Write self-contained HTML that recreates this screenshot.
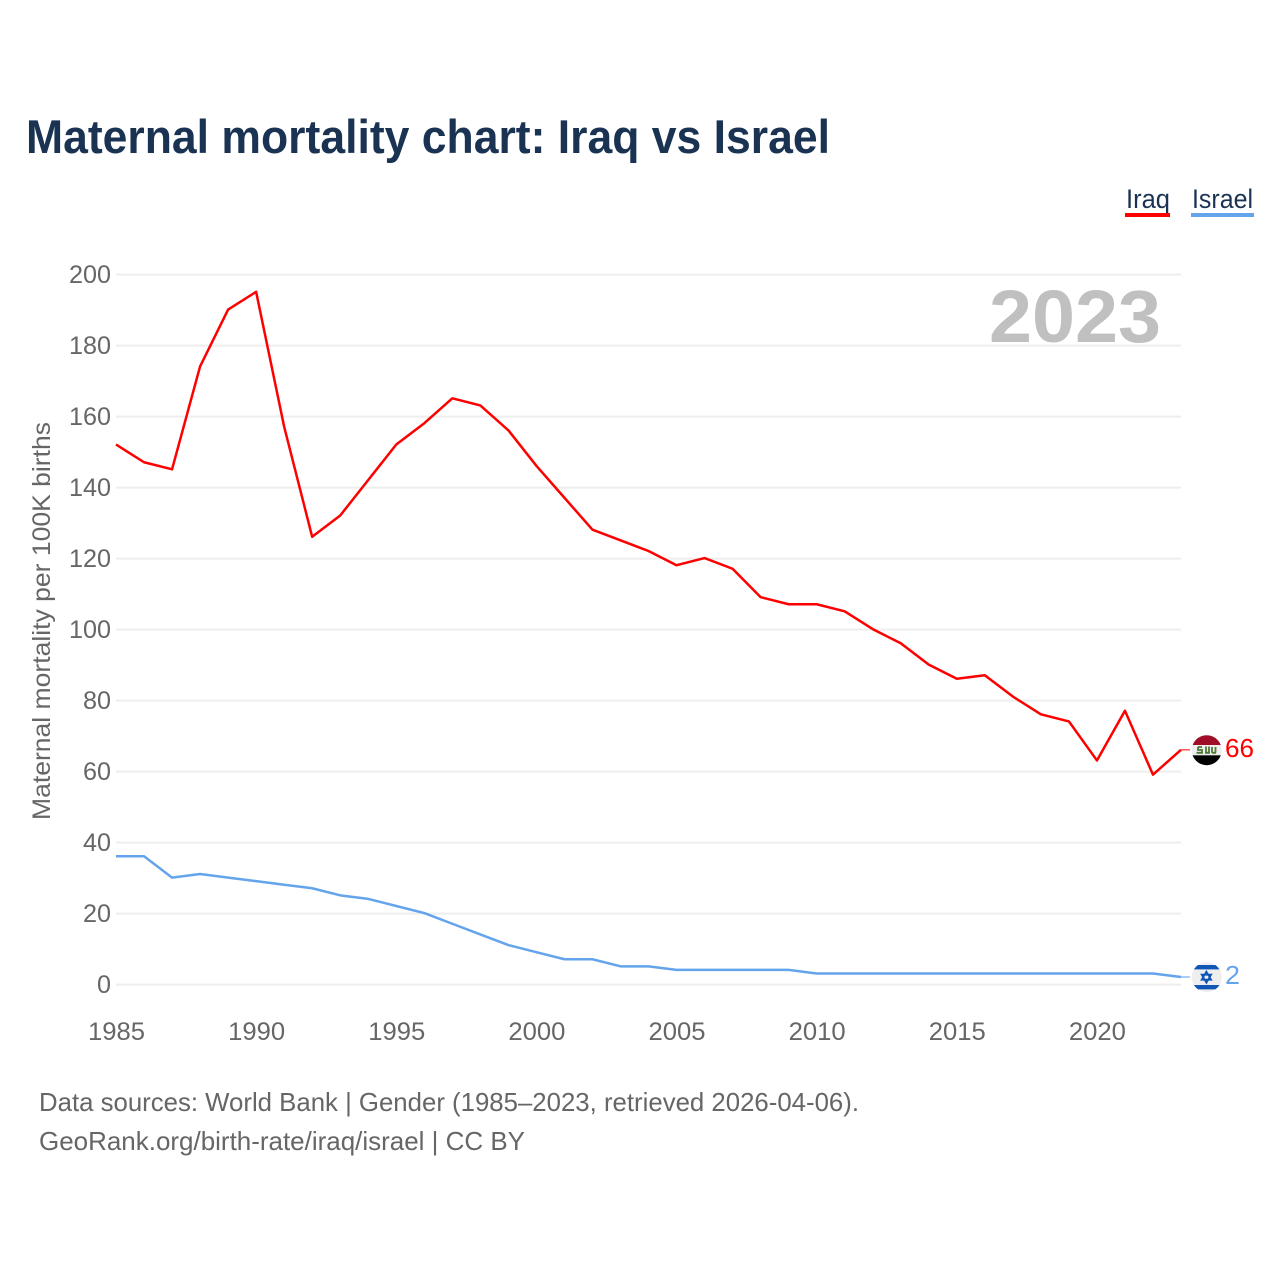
<!DOCTYPE html>
<html lang="en">
<head>
<meta charset="utf-8">
<title>Maternal mortality chart: Iraq vs Israel</title>
<style>
html,body{margin:0;padding:0;background:#fff;}
svg{display:block;font-family:"Liberation Sans",sans-serif;}
</style>
</head>
<body>
<svg id="chart" xmlns="http://www.w3.org/2000/svg" width="1280" height="1280" viewBox="0 0 1280 1280">
  <rect x="0" y="0" width="1280" height="1280" fill="#ffffff"/>
  <text x="26" y="153" font-size="47" font-weight="700" fill="#1a3353" textLength="804" lengthAdjust="spacingAndGlyphs">Maternal mortality chart: Iraq vs Israel</text>

  <g>
    <text x="1126" y="208" font-size="27" fill="#1a3353" textLength="44" lengthAdjust="spacingAndGlyphs">Iraq</text>
    <rect x="1125" y="213" width="45" height="4" fill="#ff0000"/>
  </g>
  <g>
    <text x="1192" y="208" font-size="27" fill="#1a3353" textLength="61" lengthAdjust="spacingAndGlyphs">Israel</text>
    <rect x="1191" y="213" width="63" height="4" fill="#63a4ec"/>
  </g>

  <g id="grid"></g>
  <g id="yticks"></g>
  <g id="xticks"></g>

  <text x="989" y="342" font-size="74" font-weight="700" fill="#c0c0c0" textLength="172" lengthAdjust="spacingAndGlyphs">2023</text>

  <text transform="translate(50,820) rotate(-90)" x="0" y="0" font-size="25" fill="#666666" textLength="398" lengthAdjust="spacingAndGlyphs">Maternal mortality per 100K births</text>

  <g id="series" transform="translate(0,-0.5)"></g>

  <defs>
    <clipPath id="clip-iraq"><circle cx="1206.7" cy="750.2" r="15"/></clipPath>
    <clipPath id="clip-israel"><circle cx="1206.7" cy="977.2" r="15"/></clipPath>
  </defs>

  <g clip-path="url(#clip-iraq)">
    <rect x="1191" y="735" width="32" height="10" fill="#a00d26"/>
    <rect x="1191" y="745" width="32" height="10.3" fill="#eeeeee"/>
    <rect x="1191" y="755.3" width="32" height="11" fill="#000000"/>
    <path d="M1196.5 752.8h6.5M1198 747h4M1198 747v3h4v2.8M1206 746.5v6.3M1209 746.5v6.3M1205 752.8h5M1212 752.8h4M1212 747v5.8M1215.5 747v5.8" stroke="#4d7a35" stroke-width="1.8" fill="none"/>
  </g>
  <g clip-path="url(#clip-israel)">
    <rect x="1191" y="962" width="32" height="31" fill="#eeeeee"/>
    <rect x="1191" y="965" width="32" height="4.4" fill="#0f56b5"/>
    <rect x="1191" y="985" width="32" height="4.4" fill="#0f56b5"/>
    <path d="M1206.4 971.7l4.7 8h-9.4zM1206.4 982.7l-4.7-8h9.4z" fill="none" stroke="#0f56b5" stroke-width="1.8"/>
  </g>

  <text id="end-iraq" x="1225" y="757" font-size="26" fill="#ff0000" textLength="29" lengthAdjust="spacingAndGlyphs"></text>
  <text id="end-israel" x="1225" y="984" font-size="26" fill="#63a4ec" textLength="15" lengthAdjust="spacingAndGlyphs"></text>

  <text x="39" y="1111" font-size="26" fill="#666666" textLength="820" lengthAdjust="spacingAndGlyphs">Data sources: World Bank | Gender (1985–2023, retrieved 2026-04-06).</text>
  <text x="39" y="1150" font-size="26" fill="#666666" textLength="486" lengthAdjust="spacingAndGlyphs">GeoRank.org/birth-rate/iraq/israel | CC BY</text>
</svg>
<script>
const years = [1985,1986,1987,1988,1989,1990,1991,1992,1993,1994,1995,1996,1997,1998,1999,2000,2001,2002,2003,2004,2005,2006,2007,2008,2009,2010,2011,2012,2013,2014,2015,2016,2017,2018,2019,2020,2021,2022,2023];
const iraqValues = [152,147,145,174,190,195,157,126,132,142,152,158,165,163,156,146,137,128,125,122,118,120,117,109,107,107,105,100,96,90,86,87,81,76,74,63,77,59,66];
const israelValues = [36,36,30,31,30,29,28,27,25,24,22,20,17,14,11,9,7,7,5,5,4,4,4,4,4,3,3,3,3,3,3,3,3,3,3,3,3,3,2];
const yTickLabels = [0,20,40,60,80,100,120,140,160,180,200];
const xTickLabels = [1985,1990,1995,2000,2005,2010,2015,2020];

const NS = 'http://www.w3.org/2000/svg';
const xScale = function (year) { return 116 + (year - 1985) * (1181 - 116) / 38; };
const yScale = function (value) { return 984.6 - value * 3.55; };

const grid = document.getElementById('grid');
const yticks = document.getElementById('yticks');
const xticks = document.getElementById('xticks');
const series = document.getElementById('series');

yTickLabels.forEach(function (tick) {
  const line = document.createElementNS(NS, 'line');
  
  
  line.setAttribute('x1', 116);
  line.setAttribute('x2', 1181);
  line.setAttribute('y1', yScale(tick));
  line.setAttribute('y2', yScale(tick));
  line.setAttribute('stroke', '#eeeeee');
  line.setAttribute('stroke-width', '2');
  grid.appendChild(line);

  const label = document.createElementNS(NS, 'text');
  
  
  const text = String(tick);
  const width = text.length * 14;
  label.setAttribute('x', 111 - width);
  label.setAttribute('y', yScale(tick) + 8.4);
  label.setAttribute('font-size', '25');
  label.setAttribute('fill', '#666666');
  label.setAttribute('textLength', width);
  label.setAttribute('lengthAdjust', 'spacingAndGlyphs');
  label.textContent = text;
  yticks.appendChild(label);
});

xTickLabels.forEach(function (tick) {
  const label = document.createElementNS(NS, 'text');
  
  
  label.setAttribute('x', xScale(tick) - 28);
  label.setAttribute('y', 1040);
  label.setAttribute('font-size', '25');
  label.setAttribute('fill', '#666666');
  label.setAttribute('textLength', 57);
  label.setAttribute('lengthAdjust', 'spacingAndGlyphs');
  label.textContent = String(tick);
  xticks.appendChild(label);
});

function buildPoints(values) {
  return values.map(function (value, i) {
    return xScale(years[i]).toFixed(2) + ',' + yScale(value).toFixed(2);
  }).join(' ');
}

const iraqLine = document.createElementNS(NS, 'polyline');


iraqLine.setAttribute('points', buildPoints(iraqValues));
iraqLine.setAttribute('fill', 'none');
iraqLine.setAttribute('stroke', '#ff0000');
iraqLine.setAttribute('stroke-width', '2.5');
iraqLine.setAttribute('stroke-linejoin', 'round');
series.appendChild(iraqLine);

const israelLine = document.createElementNS(NS, 'polyline');


israelLine.setAttribute('points', buildPoints(israelValues));
israelLine.setAttribute('fill', 'none');
israelLine.setAttribute('stroke', '#63a4ec');
israelLine.setAttribute('stroke-width', '2.5');
israelLine.setAttribute('stroke-linejoin', 'round');
series.appendChild(israelLine);

const iraqLast = iraqValues[iraqValues.length - 1];
const israelLast = israelValues[israelValues.length - 1];

const iraqConnector = document.createElementNS(NS, 'line');


iraqConnector.setAttribute('x1', xScale(2023));
iraqConnector.setAttribute('x2', 1190);
iraqConnector.setAttribute('y1', yScale(iraqLast));
iraqConnector.setAttribute('y2', yScale(iraqLast));
iraqConnector.setAttribute('stroke', '#ff5555');
iraqConnector.setAttribute('stroke-width', '1.5');
series.appendChild(iraqConnector);

const israelConnector = document.createElementNS(NS, 'line');


israelConnector.setAttribute('x1', xScale(2023));
israelConnector.setAttribute('x2', 1190);
israelConnector.setAttribute('y1', yScale(israelLast));
israelConnector.setAttribute('y2', yScale(israelLast));
israelConnector.setAttribute('stroke', '#8dbdf2');
israelConnector.setAttribute('stroke-width', '1.5');
series.appendChild(israelConnector);

document.getElementById('end-iraq').textContent = String(iraqLast);
document.getElementById('end-israel').textContent = String(israelLast);
</script>
</body>
</html>
